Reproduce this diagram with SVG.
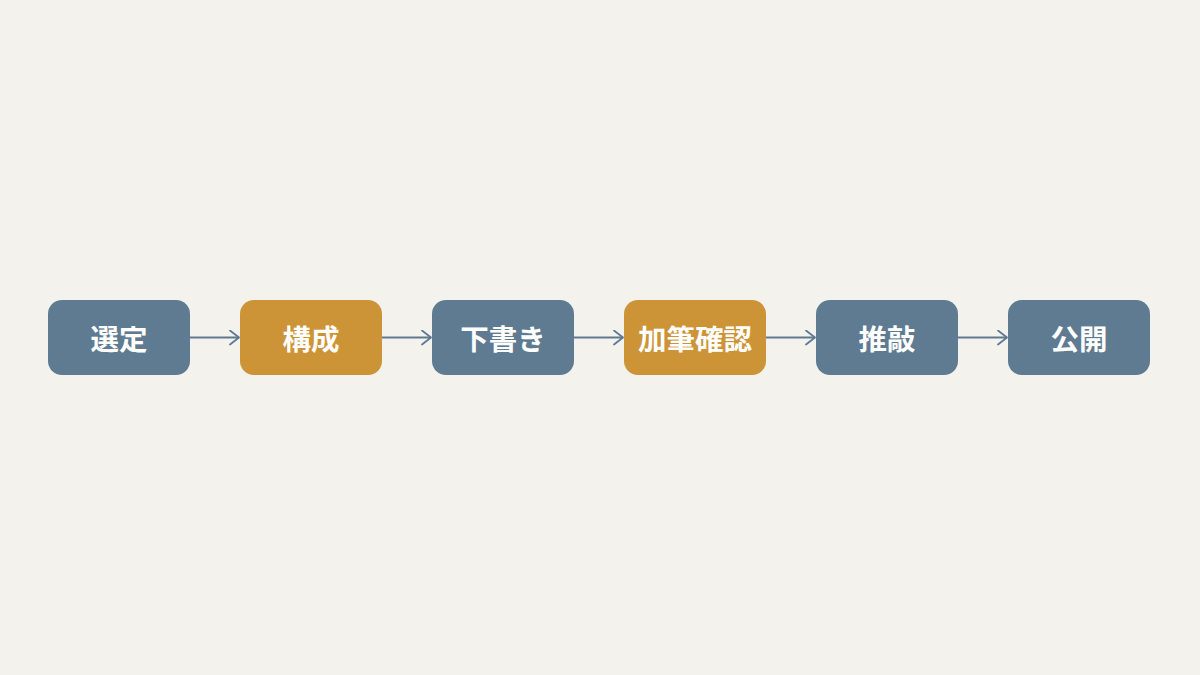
<svg xmlns="http://www.w3.org/2000/svg" width="1200" height="675" viewBox="0 0 1200 675">
<defs>
<style>
.blue{fill:#5f7b91}
.orange{fill:#cc9436}
.lbl{font-family:"Noto Sans CJK JP","Noto Sans CJK SC",sans-serif;font-weight:700;font-size:28.5px;fill:#ffffff;text-anchor:middle;dominant-baseline:central}
.edge{stroke:#5f7a90;stroke-width:1.8;fill:none}
</style>
<marker id="arr" viewBox="0 0 12 16" markerWidth="12" markerHeight="16" refX="10" refY="8" orient="auto" markerUnits="userSpaceOnUse">
<path d="M1,1 L10,8 L1,15" fill="none" stroke="#5f7a90" stroke-width="1.8" stroke-linecap="round" stroke-linejoin="round"/>
</marker>
</defs>
<rect width="1200" height="675" fill="#f4f2ed"/>
<g id="connectors">
<line class="edge" x1="190" y1="337.5" x2="239" y2="337.5" marker-end="url(#arr)"/>
<line class="edge" x1="382" y1="337.5" x2="431" y2="337.5" marker-end="url(#arr)"/>
<line class="edge" x1="574" y1="337.5" x2="623" y2="337.5" marker-end="url(#arr)"/>
<line class="edge" x1="766" y1="337.5" x2="815" y2="337.5" marker-end="url(#arr)"/>
<line class="edge" x1="958" y1="337.5" x2="1007" y2="337.5" marker-end="url(#arr)"/>
</g>
<g id="n1"><rect class="blue" x="48" y="300" width="142" height="75" rx="14"/><text class="lbl" x="119" y="337.5">選定</text></g>
<g id="n2"><rect class="orange" x="240" y="300" width="142" height="75" rx="14"/><text class="lbl" x="311" y="337.5">構成</text></g>
<g id="n3"><rect class="blue" x="432" y="300" width="142" height="75" rx="14"/><text class="lbl" x="503" y="337.5">下書き</text></g>
<g id="n4"><rect class="orange" x="624" y="300" width="142" height="75" rx="14"/><text class="lbl" x="695" y="337.5">加筆確認</text></g>
<g id="n5"><rect class="blue" x="816" y="300" width="142" height="75" rx="14"/><text class="lbl" x="887" y="337.5">推敲</text></g>
<g id="n6"><rect class="blue" x="1008" y="300" width="142" height="75" rx="14"/><text class="lbl" x="1079" y="337.5">公開</text></g>
</svg>
